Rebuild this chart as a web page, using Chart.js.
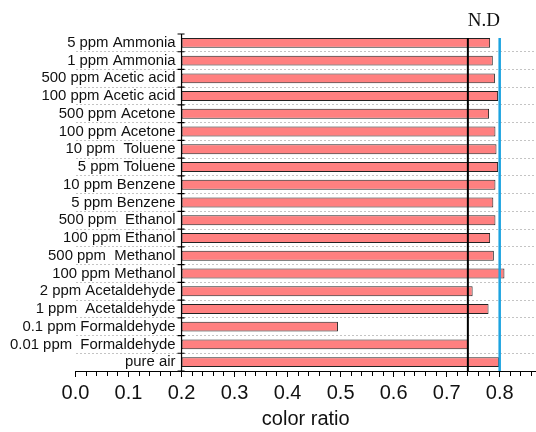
<!DOCTYPE html>
<html>
<head>
<meta charset="utf-8">
<script src="https://cdn.jsdelivr.net/npm/chart.js@4.4.1/dist/chart.umd.min.js"></script>
<style>
    html, body { margin: 0; padding: 0; background: #fff; }
    #wrap { width: 536px; height: 432px; }
</style>
</head>
<body>
<div id="wrap"><canvas id="ratioChart"></canvas></div>
<script>
// categories, listed top to bottom as in the figure
const gases = ["5 ppm Ammonia", "1 ppm Ammonia", "500 ppm Acetic acid", "100 ppm Acetic acid",
    "500 ppm Acetone", "100 ppm Acetone", "10 ppm  Toluene", "5 ppm Toluene", "10 ppm Benzene",
    "5 ppm Benzene", "500 ppm  Ethanol", "100 ppm Ethanol", "500 ppm  Methanol", "100 ppm Methanol",
    "2 ppm Acetaldehyde", "1 ppm  Acetaldehyde", "0.1 ppm Formaldehyde", "0.01 ppm  Formaldehyde", "pure air"];
const colorRatio = [0.782, 0.787, 0.791, 0.797, 0.780, 0.792, 0.794, 0.797, 0.792, 0.788,
    0.792, 0.782, 0.789, 0.809, 0.749, 0.779, 0.495, 0.741, 0.799];
const barBase = 0.2;     // bars start here
const ndLevel = 0.74;    // black N.D line
const refLevel = 0.8;    // blue line
const xTickLabels = ["0.0", "0.1", "0.2", "0.3", "0.4", "0.5", "0.6", "0.7", "0.8"];
const minorStep = 0.02;

Chart.defaults.font.family = "'Liberation Sans', Arial, sans-serif";
Chart.defaults.color = '#111';

function isMajor(v) {
    return Math.abs(v * 10 - Math.round(v * 10)) < 1e-6;
}

// axis at the bar base, N.D and reference lines
const overlayLines = {
    id: 'overlayLines',
    afterDatasetsDraw(chart) {
        const { ctx, chartArea, scales: { x, y } } = chart;
        const bars = chart.getDatasetMeta(0).data;
        const top = bars[0].y - bars[0].height / 2;
        const x0 = x.getPixelForValue(barBase);
        ctx.save();
        ctx.strokeStyle = '#000';
        ctx.lineWidth = 1.2;
        ctx.beginPath();
        ctx.moveTo(x0, chartArea.top);
        ctx.lineTo(x0, chartArea.bottom);
        for (let i = 0; i <= gases.length; i++) {
            const yb = y.getPixelForValue(i - 0.5);
            ctx.moveTo(x0 - 4, yb);
            ctx.lineTo(x0 + 3, yb);
        }
        ctx.stroke();

        const xn = x.getPixelForValue(ndLevel);
        ctx.lineWidth = 2;
        ctx.beginPath();
        ctx.moveTo(xn, top);
        ctx.lineTo(xn, chartArea.bottom);
        ctx.stroke();

        const xr = x.getPixelForValue(refLevel);
        ctx.strokeStyle = '#1ba3e0';
        ctx.lineWidth = 2.5;
        ctx.beginPath();
        ctx.moveTo(xr, top);
        ctx.lineTo(xr, chartArea.bottom);
        ctx.stroke();

        ctx.fillStyle = '#111';
        ctx.font = '19px "Liberation Serif", "Times New Roman", serif';
        ctx.textAlign = 'center';
        ctx.textBaseline = 'alphabetic';
        ctx.fillText('N.D', (xn + xr) / 2, chartArea.top - 8);
        ctx.restore();
    }
};

const ctx = document.getElementById('ratioChart').getContext('2d');
const ratioChart = new Chart(ctx, {
    type: 'bar',
    data: {
        labels: gases,
        datasets: [{
            data: colorRatio.map(v => [barBase, v]),
            backgroundColor: '#ff8080',
            borderColor: '#222',
            borderWidth: 1,
            borderSkipped: false,
            barPercentage: 0.56,
            categoryPercentage: 1
        }]
    },
    options: {
        indexAxis: 'y',
        responsive: true,
        maintainAspectRatio: false,
        animation: false,
        layout: { padding: { top: 34, right: 0, bottom: 2, left: 0 } },
        plugins: {
            legend: { display: false },
            tooltip: { enabled: false }
        },
        scales: {
            x: {
                type: 'linear',
                position: 'bottom',
                min: 0,
                max: 0.8685,
                border: { display: true, color: '#000', width: 1 },
                grid: {
                    drawOnChartArea: false,
                    drawTicks: true,
                    tickLength: 6,
                    tickWidth: 1,
                    tickColor: '#000',
                    tickBorderDash: c => (c.tick && isMajor(c.tick.value)) ? [] : [4, 100]
                },
                ticks: {
                    autoSkip: false,
                    maxRotation: 0,
                    padding: 6,
                    font: { size: 20, lineHeight: 1 },
                    callback: function (value) {
                        if (!isMajor(value)) return '';
                        const label = xTickLabels[Math.round(value * 10)];
                        return label === undefined ? '' : label;
                    }
                },
                afterBuildTicks: function (scale) {
                    const t = [];
                    for (let k = 0; k * minorStep <= scale.max; k++) {
                        t.push({ value: +(k * minorStep).toFixed(2) });
                    }
                    scale.ticks = t;
                },
                afterFit: function (scale) {
                    scale.paddingRight = 0;
                },
                title: {
                    display: true,
                    text: 'color ratio',
                    font: { size: 20, lineHeight: 1 },
                    padding: { top: 0, bottom: 1 }
                }
            },
            y: {
                type: 'category',
                position: 'left',
                border: { display: false, dash: [2, 2] },
                grid: {
                    offset: true,
                    drawTicks: false,
                    color: '#c4c4c4',
                    lineWidth: c => c.index === 0 ? 0 : 1
                },
                ticks: {
                    autoSkip: false,
                    mirror: true,
                    crossAlign: 'far',
                    padding: -65.5,
                    font: { size: 14.9 }
                },
                afterFit: function (scale) {
                    scale.width = 75.5;
                }
            }
        }
    },
    plugins: [overlayLines]
});
</script>
</body>
</html>
